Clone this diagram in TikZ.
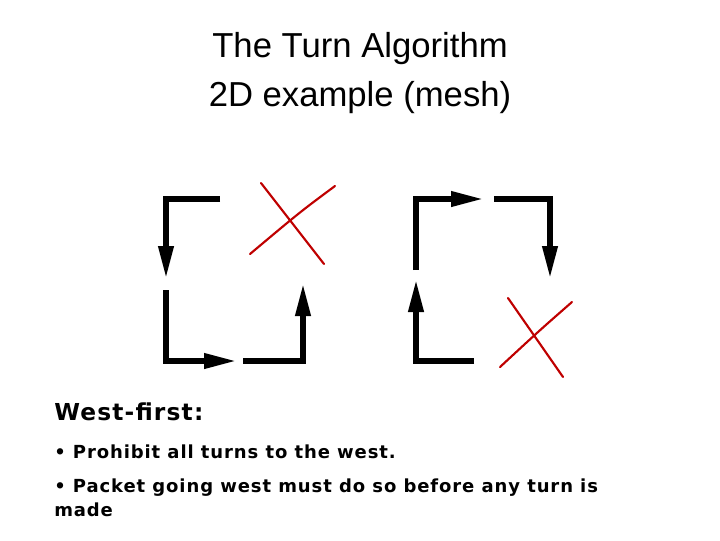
\documentclass[tikz,border=0pt]{standalone}
\usepackage{fontspec}
\setmainfont{Liberation Sans}
\newfontfamily\verd[LetterSpace=5]{DejaVu Sans}
\usetikzlibrary{arrows.meta}
\begin{document}
\begin{tikzpicture}[x=0.75pt,y=-0.75pt,
  seg/.style={line width=3.8pt,line cap=butt,line join=miter},
  arr/.style={seg,-{Triangle[length=24pt,width=11pt]}},
  cross/.style={draw=red!75!black,line width=1.6pt,line cap=round},
  txt/.style={anchor=west,inner sep=0pt,font=\verd\bfseries}]
\useasboundingbox (0,0) rectangle (720,540);
\node (t) at (360,73) [align=center,font=\fontsize{26}{37}\selectfont] {The Turn Algorithm\\2D example (mesh)};
% left
\draw[arr] (220,199) -- (166,199) -- (166,278);
\draw[arr] (166,290) -- (166,361) -- (236,361);
\draw[arr] (243,361) -- (303,361) -- (303,284);
\draw[cross] (261,183) -- (324,264);
\draw[cross] (335,186) .. controls (300,212) .. (250,254);
% right
\draw[arr] (474,361) -- (416,361) -- (416,280);
\draw[arr] (416,270) -- (416,199) -- (483,199);
\draw[arr] (494,199) -- (550,199) -- (550,278);
\draw[cross] (508,298) -- (563,377);
\draw[cross] (572,302) .. controls (540,330) .. (500,367);
% text
\node[txt,font=\verd\bfseries\fontsize{17.5}{20}\selectfont] (h) at (54,412) {West-first:};
\node[txt,font=\verd\bfseries\fontsize{13.5}{17}\selectfont] (b1) at (54,452) {• Prohibit all turns to the west.};
\node[txt,font=\verd\bfseries\fontsize{13.5}{17.5}\selectfont,anchor=north west,align=left] (b2) at (54,479) {• Packet going west must do so before any turn is\\made};
\end{tikzpicture}
\end{document}
